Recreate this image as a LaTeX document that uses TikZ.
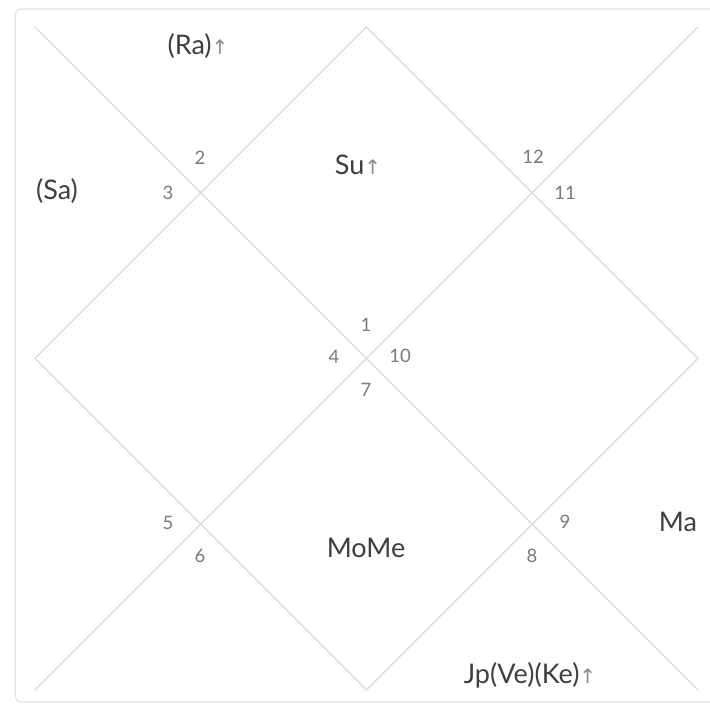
\documentclass[tikz,border=0pt]{standalone}
\usepackage{fontspec}
\setmainfont{Lato}
\newfontfamily\arrfont{DejaVu Sans}
\definecolor{gridc}{HTML}{DADADA}
\definecolor{framec}{HTML}{E2E2E2}
\definecolor{planetc}{HTML}{3F3F3F}
\definecolor{numc}{HTML}{7A7A7A}
\definecolor{arrc}{HTML}{8A8A8A}
\newcommand{\upar}{{\arrfont\fontsize{20}{20}\selectfont\color{arrc}↑}}
\begin{document}
\begin{tikzpicture}[x=1pt,y=-1pt,
  gridline/.style={draw=gridc,line width=1.1pt},
  planet/.style={font=\fontsize{27}{29}\selectfont,text=planetc,inner sep=0pt},
  housenum/.style={font=\fontsize{18.5}{20}\selectfont,text=numc,inner sep=0pt}]
\useasboundingbox (0,0) rectangle (710,708);
\fill[white] (0,0) rectangle (710,708);
\draw[framec,line width=1.2pt,rounded corners=5pt] (15.5,9) rectangle (730,702);
% chart corners
\coordinate (TL) at (35,27);
\coordinate (TR) at (698,27);
\coordinate (BL) at (35,690);
\coordinate (BR) at (698,690);
\coordinate (T) at (366.5,27);
\coordinate (B) at (366.5,690);
\coordinate (L) at (35,358.5);
\coordinate (R) at (698,358.5);
\draw[gridline] (TL) -- (BR);
\draw[gridline] (TR) -- (BL);
\draw[gridline] (T) -- (R) -- (B) -- (L) -- cycle;
% house numbers
\node[housenum] (n1) at (366,325) {1};
\node[housenum] (n2) at (200,158) {2};
\node[housenum] (n3) at (168,193) {3};
\node[housenum] (n4) at (334,357) {4};
\node[housenum] (n5) at (168,523) {5};
\node[housenum] (n6) at (200,556) {6};
\node[housenum] (n7) at (366,390) {7};
\node[housenum] (n8) at (532,556) {8};
\node[housenum] (n9) at (565,522) {9};
\node[housenum] (n10) at (400,356) {10};
\node[housenum] (n11) at (565,193) {11};
\node[housenum] (n12) at (533,157) {12};
% planets
\node[planet] (ra) at (198,46) {(Ra)\upar};
\node[planet] (sa) at (57,191) {(Sa)};
\node[planet] (su) at (358,165) {Su\upar};
\node[planet] (ma) at (678,522) {Ma};
\node[planet] (mome) at (366,548) {MoMe};
\node[planet] (jp) at (530,675) {Jp(Ve)(Ke)\upar};
\end{tikzpicture}
\end{document}
